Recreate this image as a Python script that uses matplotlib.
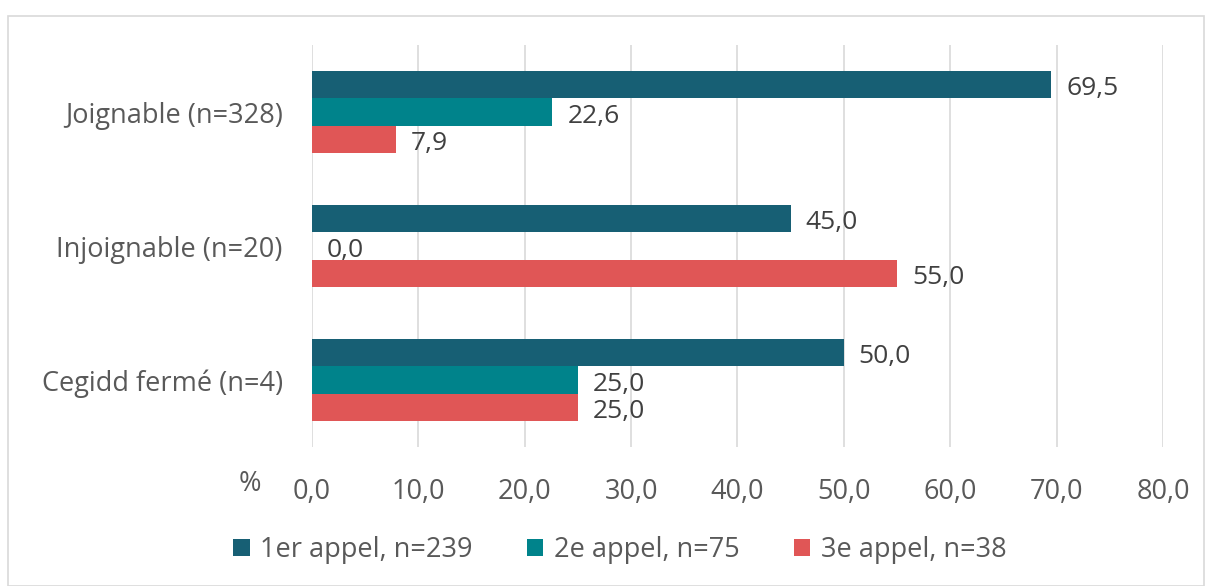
import matplotlib.pyplot as plt
import numpy as np
from matplotlib.patches import Rectangle

categories = ['Joignable (n=328)', 'Injoignable (n=20)', 'Cegidd fermé (n=4)']
series = ['1er appel, n=239', '2e appel, n=75', '3e appel, n=38']
appel1 = [69.5, 45.0, 50.0]
appel2 = [22.6, 0.0, 25.0]
appel3 = [7.9, 55.0, 25.0]
colors = ['#175f74', '#00838b', '#e05656']

plt.rcParams['font.family'] = ['Open Sans', 'DejaVu Sans']
grey = '#595959'
fs = 19.5

fig = plt.figure(figsize=(12.06, 5.86), dpi=100)
fig.patches.append(Rectangle((8 / 1206, 0), 1 - 10 / 1206, 1 - 16 / 586,
                             transform=fig.transFigure, fill=False,
                             edgecolor='#d9d9d9', lw=1.2))
ax = fig.add_axes([312 / 1206, 139 / 586, 851 / 1206, 402 / 586])

h = 0.205
y = np.arange(len(categories))
for i, (vals, lab) in enumerate(zip([appel1, appel2, appel3], series)):
    pos = y + (i - 1) * h
    ax.barh(pos, vals, height=h, color=colors[i], label=lab, zorder=3)
    for p, v in zip(pos, vals):
        txt = f'{v:.1f}'.replace('.', ',')
        ax.text(v + 1.4, p + 0.03, txt, va='center', ha='left',
                fontsize=fs - 0.5, color='#404040', zorder=4)

ax.set_ylim(2.5, -0.5)
ax.set_xlim(0, 80)
ax.set_xticks(np.arange(0, 81, 10))
ax.set_xticklabels([f'{t:.1f}'.replace('.', ',') for t in np.arange(0, 81, 10)])
ax.set_yticks(y)
ax.set_yticklabels(categories)
ax.grid(axis='x', color='#d9d9d9', lw=1.2, zorder=0)
for s in ax.spines.values():
    s.set_visible(False)
ax.tick_params(axis='both', length=0, labelsize=fs, labelcolor=grey)
ax.tick_params(axis='x', pad=22)
ax.tick_params(axis='y', pad=21)
fig.text(250 / 1206, 1 - 484 / 586, '%', fontsize=fs, color=grey,
         ha='center', va='center')

fig.legend(loc='center', bbox_to_anchor=(620 / 1206, 1 - 550 / 586), ncol=3,
           frameon=False, fontsize=fs, labelcolor=grey, handlelength=0.6,
           handleheight=0.6, handletextpad=0.4, columnspacing=2.0)

fig.savefig('out.png', dpi=100)
